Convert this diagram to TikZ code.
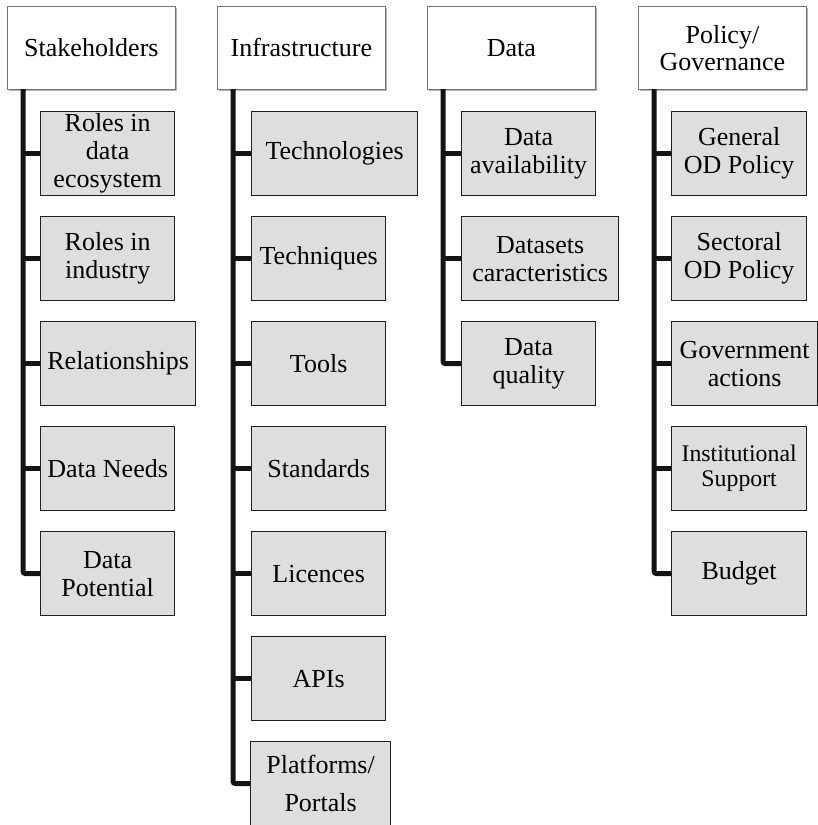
\documentclass[tikz,border=0pt]{standalone}
\usepackage{fontspec}
\setmainfont{Liberation Serif}
\usetikzlibrary{shadows}
\definecolor{leafgray}{HTML}{DDDEDE}
\begin{document}
\begin{tikzpicture}[x=1pt,y=-1pt,
  head/.style={draw=black!55, line width=0.8pt, fill=white, anchor=north west,
    minimum width=168pt, minimum height=83pt, inner sep=0pt, align=center,
    font=\fontsize{26}{27}\selectfont,
    drop shadow={shadow xshift=1.2pt, shadow yshift=-1.6pt, opacity=0.3, fill=black}},
  leaf/.style={draw=black!88, line width=1.3pt, fill=leafgray, anchor=north west,
    minimum height=84pt, minimum width=134pt, inner sep=0pt, align=center,
    font=\fontsize{26}{28}\selectfont},
  small/.style={font=\fontsize{23.8}{25}\selectfont},
  branch/.style={line width=5pt, draw=black!92},
  trunk/.style={branch, rounded corners=2.5pt}]

% page frame
\useasboundingbox (0,0) rectangle (818,825);

% ---- Stakeholders ----
\node[head] (sh) at (7,6) {Stakeholders};
\coordinate (sT) at (23,89);
\node[leaf] (s1) at (40,111) {Roles in\\data\\ecosystem};
\node[leaf] (s2) at (40,216) {Roles in\\industry};
\node[leaf, minimum width=155pt] (s3) at (40,321) {Relationships};
\node[leaf] (s4) at (40,426) {Data Needs};
\node[leaf] (s5) at (40,531) {Data\\Potential};
\draw[trunk] (sT) |- (s5.west);
\foreach \c in {s1,s2,s3,s4} \draw[branch] (\c.west) -- (\c.west -| sT);

% ---- Infrastructure ----
\node[head] (ih) at (217,6) {Infrastructure};
\coordinate (iT) at (233,89);
\node[leaf, minimum width=166pt] (i1) at (251,111) {Technologies};
\node[leaf] (i2) at (251,216) {Techniques};
\node[leaf] (i3) at (251,321) {Tools};
\node[leaf] (i4) at (251,426) {Standards};
\node[leaf] (i5) at (251,531) {Licences};
\node[leaf] (i6) at (251,636) {APIs};
\node[leaf, minimum width=140pt, font=\fontsize{26}{38}\selectfont] (i7) at (250,741) {Platforms/\\Portals};
\draw[trunk] (iT) |- (i7.west);
\foreach \c in {i1,i2,i3,i4,i5,i6} \draw[branch] (\c.west) -- (\c.west -| iT);

% ---- Data ----
\node[head] (dh) at (427,6) {Data};
\coordinate (dT) at (443,89);
\node[leaf] (d1) at (461,111) {Data\\availability};
\node[leaf, minimum width=157pt] (d2) at (461,216) {Datasets\\caracteristics};
\node[leaf] (d3) at (461,321) {Data\\quality};
\draw[trunk] (dT) |- (d3.west);
\foreach \c in {d1,d2} \draw[branch] (\c.west) -- (\c.west -| dT);

% ---- Policy / Governance ----
\node[head] (ph) at (638,6) {Policy/\\Governance};
\coordinate (pT) at (654,89);
\node[leaf, minimum width=135pt] (p1) at (671,111) {General\\OD Policy};
\node[leaf, minimum width=135pt] (p2) at (671,216) {Sectoral\\OD Policy};
\node[leaf, minimum width=146pt] (p3) at (671,321) {Government\\actions};
\node[leaf, small, minimum width=135pt] (p4) at (671,426) {Institutional\\Support};
\node[leaf, minimum width=135pt] (p5) at (671,531) {Budget};
\draw[trunk] (pT) |- (p5.west);
\foreach \c in {p1,p2,p3,p4} \draw[branch] (\c.west) -- (\c.west -| pT);
\end{tikzpicture}
\end{document}
